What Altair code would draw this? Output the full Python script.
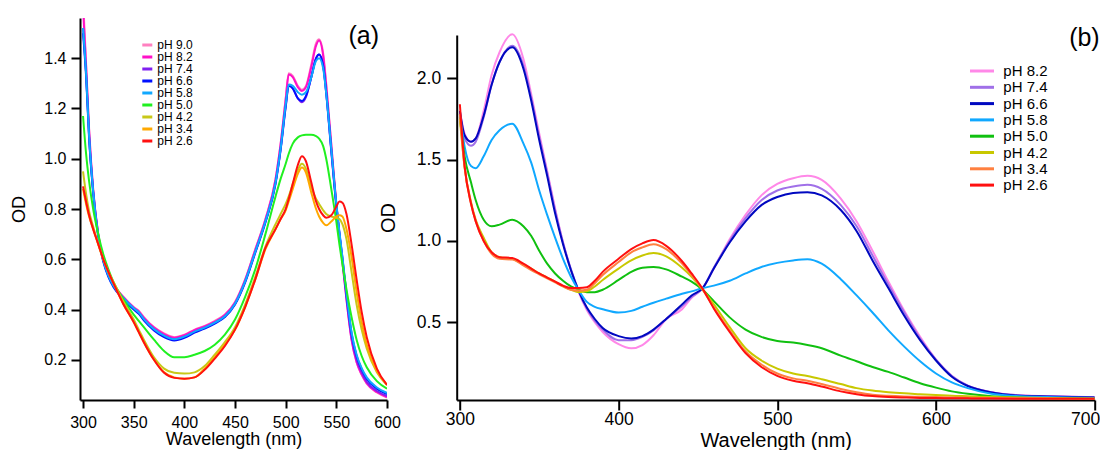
import altair as alt
import pandas as pd

FONT = "Liberation Sans"

# ---------------- Panel (a) ----------------
WL_A = [300, 303, 306, 310, 315, 320, 325, 330, 340, 350, 355, 360, 370, 380, 390, 400,
        410, 420, 430, 440, 450, 460, 470, 480, 490, 495, 500, 503, 507, 512, 516, 520,
        525, 530, 533, 537, 540, 545, 550, 553, 556, 560, 565, 570, 575, 580, 590, 600]

PH_A = ["pH 9.0", "pH 8.2", "pH 7.4", "pH 6.6", "pH 5.8", "pH 5.0", "pH 4.2", "pH 3.4", "pH 2.6"]
COLORS_A = ["#ff80c0", "#ff10c8", "#8020f0", "#0010ff", "#10a8ff", "#20f020", "#c8c818", "#ffa800", "#ff1010"]

A_90 = [1.64, 1.38, 1.12, 0.88, 0.70, 0.60, 0.54, 0.50, 0.45, 0.41, 0.395, 0.37, 0.33, 0.305, 0.29, 0.30,
        0.32, 0.335, 0.355, 0.38, 0.43, 0.52, 0.64, 0.76, 0.92, 1.06, 1.24, 1.34, 1.33, 1.29, 1.275, 1.29,
        1.37, 1.46, 1.475, 1.42, 1.30, 1.06, 0.82, 0.70, 0.59, 0.44, 0.28, 0.19, 0.14, 0.105, 0.07, 0.05]
A_82 = [1.60, 1.37, 1.11, 0.875, 0.70, 0.60, 0.54, 0.50, 0.448, 0.408, 0.392, 0.368, 0.328, 0.302, 0.288, 0.298,
        0.318, 0.333, 0.352, 0.378, 0.428, 0.518, 0.638, 0.758, 0.918, 1.058, 1.235, 1.335, 1.325, 1.285, 1.27, 1.285,
        1.36, 1.45, 1.47, 1.41, 1.29, 1.055, 0.82, 0.70, 0.59, 0.44, 0.28, 0.19, 0.142, 0.107, 0.072, 0.052]
A_74 = [1.52, 1.34, 1.09, 0.87, 0.695, 0.595, 0.535, 0.495, 0.445, 0.405, 0.388, 0.362, 0.322, 0.296, 0.282, 0.292,
        0.312, 0.328, 0.348, 0.373, 0.423, 0.512, 0.63, 0.75, 0.905, 1.04, 1.21, 1.29, 1.28, 1.24, 1.225, 1.245,
        1.32, 1.40, 1.415, 1.37, 1.26, 1.03, 0.81, 0.70, 0.60, 0.45, 0.29, 0.20, 0.15, 0.112, 0.076, 0.056]
A_66 = [1.50, 1.33, 1.08, 0.865, 0.69, 0.59, 0.53, 0.49, 0.44, 0.40, 0.383, 0.357, 0.317, 0.29, 0.277, 0.287,
        0.308, 0.324, 0.344, 0.37, 0.42, 0.508, 0.626, 0.746, 0.90, 1.035, 1.205, 1.29, 1.28, 1.24, 1.23, 1.25,
        1.32, 1.40, 1.415, 1.37, 1.265, 1.035, 0.815, 0.705, 0.605, 0.46, 0.305, 0.215, 0.163, 0.125, 0.085, 0.064]
A_58 = [1.52, 1.34, 1.09, 0.87, 0.695, 0.595, 0.535, 0.495, 0.445, 0.405, 0.388, 0.362, 0.322, 0.296, 0.282, 0.292,
        0.312, 0.328, 0.348, 0.373, 0.423, 0.512, 0.63, 0.75, 0.905, 1.04, 1.215, 1.295, 1.29, 1.265, 1.255, 1.265,
        1.32, 1.39, 1.40, 1.36, 1.26, 1.04, 0.82, 0.71, 0.61, 0.465, 0.31, 0.22, 0.167, 0.13, 0.09, 0.068]
A_50 = [1.17, 1.02, 0.91, 0.80, 0.70, 0.62, 0.56, 0.51, 0.44, 0.38, 0.355, 0.33, 0.28, 0.235, 0.21, 0.21,
        0.22, 0.235, 0.26, 0.30, 0.36, 0.45, 0.56, 0.70, 0.85, 0.92, 0.98, 1.02, 1.06, 1.085, 1.093, 1.095,
        1.095, 1.09, 1.08, 1.05, 1.00, 0.88, 0.75, 0.66, 0.58, 0.48, 0.37, 0.28, 0.215, 0.17, 0.115, 0.085]
A_42 = [0.95, 0.86, 0.79, 0.73, 0.66, 0.60, 0.55, 0.51, 0.43, 0.36, 0.32, 0.28, 0.21, 0.165, 0.148, 0.145,
        0.15, 0.175, 0.22, 0.27, 0.33, 0.42, 0.53, 0.65, 0.74, 0.78, 0.82, 0.85, 0.90, 0.955, 0.98, 0.96,
        0.89, 0.84, 0.82, 0.795, 0.78, 0.77, 0.765, 0.76, 0.74, 0.68, 0.55, 0.42, 0.32, 0.245, 0.15, 0.10]
A_34 = [0.88, 0.82, 0.77, 0.72, 0.66, 0.60, 0.55, 0.505, 0.42, 0.35, 0.31, 0.27, 0.20, 0.15, 0.13, 0.125,
        0.13, 0.165, 0.21, 0.26, 0.32, 0.41, 0.52, 0.64, 0.72, 0.76, 0.795, 0.83, 0.88, 0.94, 0.965, 0.945,
        0.87, 0.80, 0.77, 0.745, 0.735, 0.75, 0.77, 0.775, 0.77, 0.72, 0.61, 0.47, 0.35, 0.26, 0.155, 0.10]
A_26 = [0.89, 0.83, 0.775, 0.72, 0.66, 0.60, 0.55, 0.505, 0.42, 0.35, 0.31, 0.27, 0.20, 0.148, 0.128, 0.125,
        0.13, 0.16, 0.205, 0.255, 0.32, 0.41, 0.52, 0.645, 0.72, 0.76, 0.80, 0.84, 0.90, 0.975, 1.01, 0.99,
        0.91, 0.83, 0.80, 0.775, 0.765, 0.775, 0.81, 0.83, 0.825, 0.78, 0.66, 0.52, 0.39, 0.29, 0.165, 0.10]
SERIES_A = [A_90, A_82, A_74, A_66, A_58, A_50, A_42, A_34, A_26]

# ---------------- Panel (b) ----------------
WL_B = [300, 303, 307, 310, 315, 320, 325, 333, 340, 345, 350, 355, 360, 365, 370, 375,
        380, 385, 390, 400, 408, 415, 422, 430, 440, 446, 453, 460, 470, 480, 490, 500,
        510, 519, 528, 540, 550, 560, 570, 580, 590, 600, 610, 620, 635, 650, 670, 700]

PH_B = ["pH 8.2", "pH 7.4", "pH 6.6", "pH 5.8", "pH 5.0", "pH 4.2", "pH 3.4", "pH 2.6"]
COLORS_B = ["#ff88e8", "#a070e8", "#0008c0", "#10a8ff", "#10c010", "#c8c800", "#ff8040", "#ff1010"]

B_82 = [1.80, 1.66, 1.61, 1.63, 1.80, 2.02, 2.16, 2.27, 2.12, 1.90, 1.66, 1.43, 1.20, 0.99, 0.82, 0.68,
        0.575, 0.50, 0.44, 0.365, 0.34, 0.36, 0.42, 0.52, 0.58, 0.65, 0.71, 0.83, 1.01, 1.16, 1.28, 1.35,
        1.385, 1.40, 1.375, 1.26, 1.12, 0.94, 0.75, 0.57, 0.41, 0.27, 0.17, 0.11, 0.07, 0.053, 0.046, 0.04]
B_74 = [1.78, 1.63, 1.585, 1.61, 1.76, 1.96, 2.10, 2.20, 2.08, 1.88, 1.64, 1.42, 1.19, 0.99, 0.825, 0.69,
        0.585, 0.51, 0.455, 0.39, 0.39, 0.41, 0.45, 0.52, 0.60, 0.655, 0.71, 0.835, 1.00, 1.14, 1.25, 1.31,
        1.335, 1.345, 1.32, 1.22, 1.09, 0.91, 0.73, 0.56, 0.40, 0.27, 0.17, 0.11, 0.07, 0.052, 0.045, 0.04]
B_66 = [1.80, 1.65, 1.61, 1.63, 1.77, 1.96, 2.10, 2.19, 2.06, 1.86, 1.62, 1.40, 1.17, 0.98, 0.82, 0.69,
        0.59, 0.52, 0.465, 0.415, 0.40, 0.415, 0.455, 0.52, 0.61, 0.665, 0.71, 0.83, 0.99, 1.12, 1.22, 1.27,
        1.295, 1.30, 1.28, 1.19, 1.06, 0.88, 0.71, 0.54, 0.39, 0.265, 0.165, 0.108, 0.068, 0.05, 0.044, 0.038]
B_58 = [1.78, 1.58, 1.46, 1.447, 1.52, 1.62, 1.68, 1.72, 1.60, 1.48, 1.31, 1.16, 1.02, 0.89, 0.78, 0.695,
        0.625, 0.595, 0.58, 0.56, 0.57, 0.595, 0.62, 0.645, 0.675, 0.69, 0.71, 0.725, 0.755, 0.80, 0.84, 0.865,
        0.88, 0.887, 0.86, 0.765, 0.665, 0.56, 0.45, 0.35, 0.26, 0.185, 0.13, 0.095, 0.06, 0.047, 0.04, 0.035]
B_50 = [1.76, 1.52, 1.36, 1.25, 1.13, 1.09, 1.10, 1.13, 1.09, 1.03, 0.94, 0.86, 0.80, 0.755, 0.72, 0.70,
        0.685, 0.685, 0.70, 0.76, 0.81, 0.835, 0.84, 0.825, 0.78, 0.75, 0.70, 0.63, 0.53, 0.455, 0.41, 0.385,
        0.375, 0.36, 0.34, 0.295, 0.26, 0.225, 0.195, 0.16, 0.125, 0.098, 0.075, 0.06, 0.045, 0.038, 0.033, 0.03]
B_42 = [1.75, 1.45, 1.24, 1.13, 1.02, 0.93, 0.90, 0.89, 0.855, 0.83, 0.80, 0.775, 0.75, 0.72, 0.70, 0.685,
        0.69, 0.72, 0.76, 0.83, 0.88, 0.91, 0.925, 0.905, 0.835, 0.78, 0.70, 0.61, 0.47, 0.34, 0.265, 0.215,
        0.185, 0.17, 0.15, 0.12, 0.095, 0.08, 0.07, 0.063, 0.058, 0.053, 0.048, 0.045, 0.04, 0.037, 0.034, 0.03]
B_34 = [1.78, 1.45, 1.23, 1.12, 1.00, 0.92, 0.89, 0.885, 0.85, 0.82, 0.795, 0.77, 0.745, 0.72, 0.70, 0.695,
        0.70, 0.74, 0.79, 0.87, 0.93, 0.96, 0.98, 0.95, 0.86, 0.79, 0.70, 0.59, 0.45, 0.32, 0.24, 0.185,
        0.155, 0.14, 0.12, 0.09, 0.07, 0.055, 0.048, 0.044, 0.042, 0.04, 0.038, 0.036, 0.034, 0.033, 0.031, 0.03]
B_26 = [1.84, 1.46, 1.23, 1.12, 1.00, 0.93, 0.90, 0.895, 0.86, 0.83, 0.80, 0.775, 0.75, 0.725, 0.71, 0.71,
        0.715, 0.755, 0.81, 0.89, 0.95, 0.985, 1.005, 0.97, 0.875, 0.80, 0.705, 0.585, 0.44, 0.31, 0.225, 0.17,
        0.14, 0.125, 0.105, 0.075, 0.058, 0.046, 0.04, 0.037, 0.035, 0.034, 0.033, 0.032, 0.031, 0.03, 0.03, 0.03]
SERIES_B = [B_82, B_74, B_66, B_58, B_50, B_42, B_34, B_26]


def long_table(wl, names, series):
    rows = []
    for k, (name, vals) in enumerate(zip(names, series)):
        for w, v in zip(wl, vals):
            rows.append({"wl": w, "od": v, "series": name, "k": k})
    return pd.DataFrame(rows)


df_a = long_table(WL_A, PH_A, SERIES_A)
df_b = long_table(WL_B, PH_B, SERIES_B)

# ---------------- Panel (a) chart ----------------
lines_a = alt.Chart(df_a).mark_line(strokeWidth=2, interpolate="monotone", clip=True).encode(
    x=alt.X("wl:Q",
            scale=alt.Scale(domain=[297, 600], nice=False, zero=False),
            axis=alt.Axis(values=[300, 350, 400, 450, 500, 550, 600], title="Wavelength (nm)",
                          labelFontSize=16, titleFontSize=18, tickSize=8, labelPadding=6,
                          titlePadding=0, labelFlush=False)),
    y=alt.Y("od:Q",
            scale=alt.Scale(domain=[0.04, 1.56], nice=False, zero=False),
            axis=alt.Axis(values=[0.2, 0.4, 0.6, 0.8, 1.0, 1.2, 1.4], format=".1f", title="OD",
                          labelFontSize=16, titleFontSize=18, tickSize=9, labelPadding=5,
                          titlePadding=15.5, labelFlush=False)),
    color=alt.Color("series:N", scale=alt.Scale(domain=PH_A, range=COLORS_A),
                    legend=alt.Legend(title=None, orient="none", legendX=61.3, legendY=21,
                                      symbolType="M-1.25,0H1.25", symbolSize=64, symbolStrokeWidth=3,
                                      labelFontSize=12, labelFont=FONT, labelOffset=4,
                                      rowPadding=-0.7, padding=0)),
    detail="k:O",
)
tag_a = alt.Chart(pd.DataFrame({"t": ["(a)"]})).mark_text(
    align="right", baseline="middle", fontSize=25, font=FONT, color="black"
).encode(x=alt.value(299), y=alt.value(18), text="t:N")
panel_a = alt.layer(lines_a, tag_a).properties(width=307, height=382)

# ---------------- Panel (b) chart ----------------
lines_b = alt.Chart(df_b).mark_line(strokeWidth=2, interpolate="monotone", clip=True).encode(
    x=alt.X("wl:Q",
            scale=alt.Scale(domain=[298, 700], nice=False, zero=False),
            axis=alt.Axis(values=[300, 400, 500, 600, 700], title="Wavelength (nm)",
                          labelFontSize=17.5, titleFontSize=20, tickSize=10, labelPadding=0,
                          titlePadding=2.5, labelFlush=1, labelFlushOffset=5)),
    y=alt.Y("od:Q",
            scale=alt.Scale(domain=[0.022, 2.266], nice=False, zero=False, range=[382, 17]),
            axis=alt.Axis(values=[0.5, 1.0, 1.5, 2.0], format=".1f", title="OD",
                          labelFontSize=17.5, titleFontSize=20, tickSize=10, labelPadding=6,
                          titlePadding=17.5, labelFlush=False)),
    color=alt.Color("series:N", scale=alt.Scale(domain=PH_B, range=COLORS_B),
                    legend=alt.Legend(title=None, orient="none", legendX=517.8, legendY=45.5,
                                      symbolType="M-2,0H2", symbolSize=144, symbolStrokeWidth=3,
                                      labelFontSize=15, labelFont=FONT, labelOffset=13.8,
                                      rowPadding=0.3, padding=0)),
    detail="k:O",
)
tag_b = alt.Chart(pd.DataFrame({"t": ["(b)"]})).mark_text(
    align="right", baseline="middle", fontSize=25, font=FONT, color="black"
).encode(x=alt.value(643), y=alt.value(20), text="t:N")
panel_b = alt.layer(lines_b, tag_b).properties(width=638, height=382)

chart = alt.hconcat(panel_a, panel_b, spacing=69.7, bounds="flush").resolve_scale(
    color="independent"
).properties(
    padding={"left": 2, "top": 10, "right": 0, "bottom": 0}
).configure_view(stroke=None).configure_axis(
    grid=False, domainColor="black", domainWidth=2, tickColor="black", tickWidth=2,
    labelColor="black", titleColor="black", labelFont=FONT, titleFont=FONT,
    titleFontWeight="normal", labelOverlap=False
)

chart.save("out.html", embed_options={"renderer": "svg", "actions": False})
